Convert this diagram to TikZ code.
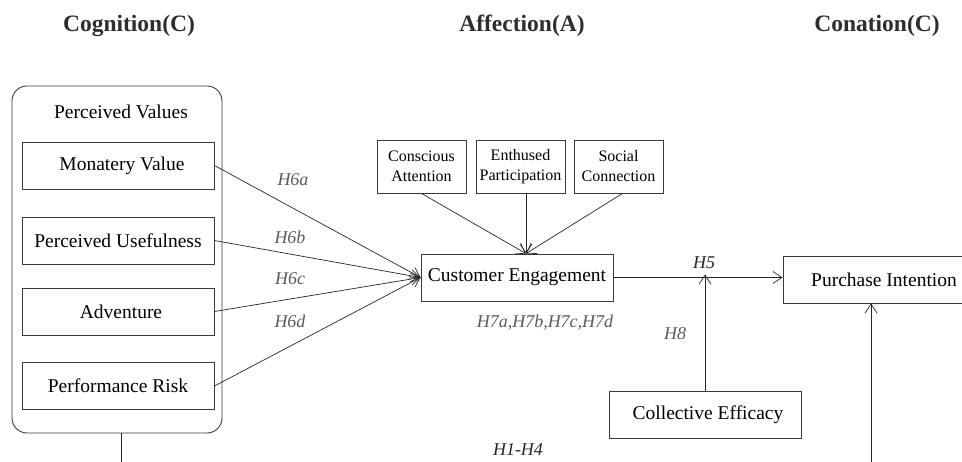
\documentclass[tikz,border=0pt]{standalone}
\usepackage{fontspec}
\setmainfont{Liberation Serif}
\usetikzlibrary{arrows.meta}
\definecolor{hypgray}{HTML}{5A5A5A}
\definecolor{headgray}{HTML}{2E2E2E}
\definecolor{linegray}{HTML}{3A3A3A}

\begin{document}
\begin{tikzpicture}[x=1pt,y=-1pt,
		box/.style={draw=linegray, line width=0.9pt, minimum width=192pt, minimum height=47pt, inner sep=0pt, font=\fontsize{19.5}{22}\selectfont},
		dimbox/.style={draw=linegray, line width=0.9pt, minimum width=89pt, minimum height=53pt, inner sep=0pt, align=center, font=\fontsize{16}{20}\selectfont},
		hyp/.style={font=\fontsize{18}{20}\selectfont\itshape, text=hypgray},
		head/.style={font=\fontsize{23.5}{26}\selectfont\bfseries, text=headgray, anchor=base},
		arr/.style={-{Straight Barb[length=9pt,width=12pt]}, line width=0.7pt, draw=black!85}]
		\useasboundingbox (0,0) rectangle (962,462);
		
		%TITOLI
		\node[head] (cog) at (129,32) {Cognition(C)};
		\node[head] (aff) at (522,32) {Affection(A)};
		\node[head] (con) at (877,32) {Conation(C)};
		
		%PERCEIVED VALUES
		\node[draw=linegray, line width=0.9pt, rounded corners=15pt, minimum width=210pt, minimum height=347pt] (pv) at (117,259.5) {};
		\node[font=\fontsize{19.5}{22}\selectfont] (pvl) at (121,112) {Perceived Values};
		\node[box] (mv) at (118,165.5) {\hspace{8pt}Monatery Value};
		\node[box] (pu) at (118,240.5) {Perceived Usefulness};
		\node[box] (adv) at (118,311.5) {\hspace{6pt}Adventure};
		\node[box] (pr) at (118,386) {Performance Risk};
		
		%ENGAGEMENT
		\node[box] (ce) at (517,277.5) {Customer Engagement};
		\node[dimbox] (ca) at (421.5,166.5) {Conscious\\Attention};
		\node[dimbox] (ep) at (520.5,166.5) {Enthused\\Participation};
		\node[dimbox] (sc) at (618.5,166.5) {Social\\Connection};
		\coordinate (cetop) at ([xshift=9pt]ce.north);
		
		%CONATION
		\node[box, minimum width=202pt] (pi) at (884,279.5) {Purchase Intention};
		\node[box] (cef) at (705,414.5) {\hspace{6pt}Collective Efficacy};
		
		%FRECCE H6
		\draw[arr] (mv.east) -- (ce.west);
		\draw[arr] (pu.east) -- (ce.west);
		\draw[arr] (adv.east) -- (ce.west);
		\draw[arr] (pr.east) -- (ce.west);
		\node[hyp] (h6a) at (293,180) {H6a};
		\node[hyp] (h6b) at (290,237) {H6b};
		\node[hyp] (h6c) at (290,279) {H6c};
		\node[hyp] (h6d) at (290,321) {H6d};
		
		%FRECCE H7
		\draw[arr] (ca.south) -- (cetop);
		\draw[arr] (ep.south -| cetop) -- (cetop);
		\draw[arr] ([xshift=4pt]sc.south) -- (cetop);
		\node[hyp] (h7) at (545,323) {H7a,H7b,H7c,H7d};
		
		%FRECCE H5 H8
		\draw[arr] (ce.east) -- (ce.east -| pi.west);
		\node[hyp, text=black!85] (h5) at (704,263) {H5};
		\draw[arr] (cef.north) -- ([yshift=3pt]cef.north |- ce.east);
		\node[hyp] (h8) at (675,334) {H8};
		
		%H1-H4
		\coordinate (bl) at (121,470);
		\coordinate (br) at (871,470);
		\draw[line width=0.7pt, draw=black!85] (bl |- pv.south) -- (bl);
		\draw[arr] (br) -- (br |- pi.south);
		\node[hyp, text=black!85] (h14) at (518,450) {H1-H4};
	\end{tikzpicture}
\end{document}
